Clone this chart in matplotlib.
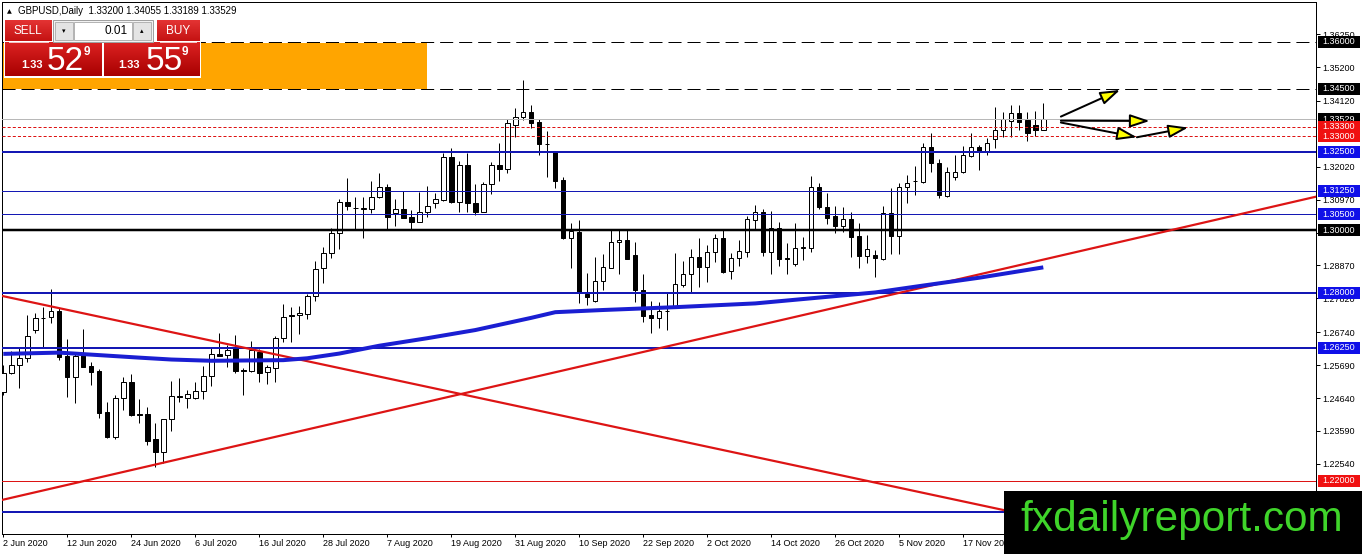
import numpy as np
import matplotlib
matplotlib.use("Agg")
import matplotlib.pyplot as plt
from matplotlib.patches import Rectangle
from matplotlib.transforms import blended_transform_factory
from matplotlib.colors import LinearSegmentedColormap

plt.rcParams['font.family'] = ['Liberation Sans', 'DejaVu Sans']
plt.rcParams['lines.scale_dashes'] = False

# ---------------- data ----------------
header_text = "GBPUSD,Daily  1.33200 1.34055 1.33189 1.33529"

opens = [1.2484, 1.2545, 1.2569, 1.2591, 1.2681, 1.2721, 1.2722, 1.2742, 1.2598, 1.2530,
         1.2605, 1.2566, 1.2551, 1.2419, 1.2341, 1.2463, 1.2514, 1.2413, 1.2412, 1.2333,
         1.2293, 1.2396, 1.2470, 1.2463, 1.2465, 1.2487, 1.2535, 1.2605, 1.2601, 1.2628,
         1.2552, 1.2551, 1.2612, 1.2548, 1.2559, 1.2655, 1.2728, 1.2729, 1.2733, 1.2790,
         1.2878, 1.2926, 1.2990, 1.3089, 1.3071, 1.3067, 1.3066, 1.3106, 1.3136, 1.3053,
         1.3066, 1.3041, 1.3027, 1.3059, 1.3087, 1.3096, 1.3232, 1.3091, 1.3208, 1.3087,
         1.3059, 1.3146, 1.3208, 1.3194, 1.3335, 1.3362, 1.3376, 1.3344, 1.3275, 1.3250,
         1.3159, 1.2974, 1.2993, 1.2797, 1.2775, 1.2839, 1.2880, 1.2961, 1.2968, 1.2920,
         1.2809, 1.2729, 1.2718, 1.2741, 1.2756, 1.2825, 1.2859, 1.2913, 1.2883, 1.2929,
         1.2974, 1.2870, 1.2912, 1.2929, 1.3032, 1.3057, 1.2931, 1.3006, 1.2911, 1.2892,
         1.2943, 1.2942, 1.3138, 1.3075, 1.3045, 1.3014, 1.3034, 1.2981, 1.2918, 1.2920,
         1.2908, 1.3053, 1.2982, 1.3138, 1.3156, 1.3154, 1.3264, 1.3213, 1.3110, 1.3168,
         1.3186, 1.3237, 1.3264, 1.3253, 1.3290, 1.3319, 1.3349, 1.3373, 1.3351, 1.3335,
         1.33200]
highs = [1.2570, 1.2614, 1.2628, 1.2729, 1.2735, 1.2756, 1.2811, 1.2750, 1.2652, 1.2612,
         1.2683, 1.2580, 1.2556, 1.2453, 1.2474, 1.2530, 1.2540, 1.2461, 1.2437, 1.2385,
         1.2398, 1.2519, 1.2527, 1.2490, 1.2516, 1.2566, 1.2623, 1.2671, 1.2633, 1.2665,
         1.2559, 1.2646, 1.2620, 1.2570, 1.2662, 1.2763, 1.2756, 1.2758, 1.2795, 1.2901,
         1.2947, 1.3008, 1.3099, 1.3165, 1.3106, 1.3104, 1.3157, 1.3181, 1.3147, 1.3098,
         1.3126, 1.3064, 1.3122, 1.3141, 1.3117, 1.3245, 1.3263, 1.3220, 1.3245, 1.3146,
         1.3154, 1.3216, 1.3279, 1.3353, 1.3390, 1.3479, 1.3399, 1.3354, 1.3316, 1.3252,
         1.3169, 1.3022, 1.3031, 1.2862, 1.2915, 1.2923, 1.2999, 1.2999, 1.2999, 1.2963,
         1.2859, 1.2774, 1.2771, 1.2798, 1.2926, 1.2901, 1.2940, 1.2974, 1.2952, 1.2987,
         1.3000, 1.2926, 1.2968, 1.3046, 1.3080, 1.3066, 1.3061, 1.3027, 1.2958, 1.3022,
         1.2979, 1.3172, 1.3149, 1.3117, 1.3077, 1.3075, 1.3059, 1.3022, 1.2984, 1.2936,
         1.3077, 1.3135, 1.3149, 1.3176, 1.3204, 1.3277, 1.3311, 1.3226, 1.3200, 1.3239,
         1.3268, 1.3311, 1.3271, 1.3295, 1.3394, 1.3378, 1.3399, 1.3399, 1.3378, 1.3381,
         1.34055]
lows = [1.2474, 1.2541, 1.2497, 1.2580, 1.2671, 1.2628, 1.2703, 1.2586, 1.2468, 1.2449,
        1.2563, 1.2506, 1.2400, 1.2336, 1.2333, 1.2426, 1.2408, 1.2385, 1.2314, 1.2245,
        1.2256, 1.2360, 1.2453, 1.2433, 1.2461, 1.2461, 1.2503, 1.2598, 1.2562, 1.2545,
        1.2474, 1.2548, 1.2516, 1.2509, 1.2516, 1.2644, 1.2642, 1.2669, 1.2715, 1.2774,
        1.2832, 1.2910, 1.2940, 1.3064, 1.3000, 1.2976, 1.3053, 1.3103, 1.3003, 1.3013,
        1.3037, 1.3003, 1.3025, 1.3043, 1.3069, 1.3093, 1.3085, 1.3059, 1.3057, 1.3048,
        1.3057, 1.3114, 1.3157, 1.3181, 1.3296, 1.3351, 1.3326, 1.3239, 1.3170, 1.3135,
        1.2972, 1.2880, 1.2766, 1.2761, 1.2771, 1.2809, 1.2878, 1.2860, 1.2907, 1.2771,
        1.2708, 1.2671, 1.2687, 1.2681, 1.2755, 1.2819, 1.2803, 1.2817, 1.2833, 1.2897,
        1.2862, 1.2843, 1.2886, 1.2915, 1.3003, 1.2918, 1.2859, 1.2886, 1.2859, 1.2885,
        1.2904, 1.2931, 1.3066, 1.3018, 1.2990, 1.2995, 1.2913, 1.2878, 1.2894, 1.2851,
        1.2904, 1.2924, 1.2924, 1.3087, 1.3112, 1.3151, 1.3186, 1.3101, 1.3104, 1.3160,
        1.3181, 1.3234, 1.3192, 1.3239, 1.3261, 1.3298, 1.3296, 1.3319, 1.3285, 1.3300,
        1.33189]
closes = [1.2545, 1.2569, 1.2591, 1.2662, 1.2719, 1.2719, 1.2742, 1.2596, 1.2532, 1.2598,
          1.2564, 1.2548, 1.2417, 1.2341, 1.2463, 1.2514, 1.2410, 1.2411, 1.2328, 1.2293,
          1.2396, 1.2472, 1.2468, 1.2476, 1.2487, 1.2535, 1.2604, 1.2599, 1.2617, 1.2551,
          1.2550, 1.2617, 1.2545, 1.2562, 1.2655, 1.2724, 1.2726, 1.2735, 1.2790, 1.2875,
          1.2926, 1.2990, 1.3089, 1.3078, 1.3069, 1.3069, 1.3106, 1.3136, 1.3043, 1.3066,
          1.3039, 1.3027, 1.3059, 1.3078, 1.3098, 1.3232, 1.3089, 1.3208, 1.3085, 1.3059,
          1.3146, 1.3208, 1.3194, 1.3343, 1.3362, 1.3376, 1.3343, 1.3274, 1.3273, 1.3157,
          1.2974, 1.2998, 1.2803, 1.2787, 1.2839, 1.2881, 1.2961, 1.2967, 1.2909, 1.2809,
          1.2727, 1.2718, 1.2742, 1.2743, 1.2827, 1.2859, 1.2913, 1.2883, 1.2929, 1.2974,
          1.2867, 1.2912, 1.2933, 1.3035, 1.3057, 1.2931, 1.3006, 1.2907, 1.2909, 1.2942,
          1.2945, 1.3138, 1.3075, 1.3038, 1.3014, 1.3034, 1.2979, 1.2918, 1.2939, 1.2910,
          1.3053, 1.2982, 1.3138, 1.3149, 1.3158, 1.3264, 1.3213, 1.3112, 1.3184, 1.3186,
          1.3239, 1.3264, 1.3250, 1.3277, 1.3319, 1.3353, 1.3374, 1.3346, 1.3309, 1.3319,
          1.33529]

date_labels = ['2 Jun 2020', '12 Jun 2020', '24 Jun 2020', '6 Jul 2020', '16 Jul 2020',
               '28 Jul 2020', '7 Aug 2020', '19 Aug 2020', '31 Aug 2020', '10 Sep 2020',
               '22 Sep 2020', '2 Oct 2020', '14 Oct 2020', '26 Oct 2020', '5 Nov 2020',
               '17 Nov 2020']
date_label_bars = [0, 8, 16, 24, 32, 40, 48, 56, 64, 72, 80, 88, 96, 104, 112, 120]

price_ticks = [1.36250, 1.35200, 1.34120, 1.32020, 1.30970, 1.29920, 1.28870,
               1.27820, 1.26740, 1.25690, 1.24640, 1.23590, 1.22540]

ma_bars = [0, 7, 12, 17, 21, 26, 35, 38, 42, 47, 53, 59, 66, 69, 75, 84, 94, 103,
           109, 115, 122, 130]
ma_values = [1.2605, 1.2609, 1.2601, 1.2593, 1.2587, 1.2583, 1.2585, 1.2591, 1.2606,
             1.2631, 1.2655, 1.2681, 1.2720, 1.2738, 1.2745, 1.2754, 1.2766, 1.2787,
             1.2801, 1.2823, 1.2848, 1.2881]

dashed_levels = [1.36000, 1.34500]
dotted_levels = [1.33300, 1.33000]
last_price = 1.33529
major_blue_levels = [1.32500, 1.28000, 1.26250, 1.21000]
minor_blue_levels = [1.31250, 1.30500]
pivot_level = 1.30000
red_level = 1.22000

zone_low, zone_high = 1.34500, 1.36000
zone_end_bar = 53.0

falling_trend = [(0, 1.2789), (125, 1.2107)]
rising_trend = [(0, 1.2140), (100, 1.2729)]

arrow_from = [(132.2, 1.3362), (132.2, 1.3349), (132.2, 1.3343), (141.7, 1.3296)]
arrow_to = [(139.6, 1.3447), (143.3, 1.3348), (141.7, 1.3296), (148.1, 1.3327)]

sell_parts = ('1.33', '52', '9')
buy_parts = ('1.33', '55', '9')
lot_size = '0.01'
watermark = 'fxdailyreport.com'

# ---------------- figure ----------------
W, H, DPI = 1362, 554, 100
PX = 72.0 / DPI
fig = plt.figure(figsize=(W / DPI, H / DPI), dpi=DPI)
fig.patch.set_facecolor('white')

L_, T_, R_, B_ = 2, 2, 1316, 534
ax = fig.add_axes([L_ / W, 1 - B_ / H, (R_ - L_) / W, (B_ - T_) / H])
ax.set_facecolor('white')
bar_px, first_px = 8.0, 3.3
x0, x1 = (L_ - first_px) / bar_px, (R_ - first_px) / bar_px
ax.set_xlim(x0, x1)
ax.set_ylim(1.20304, 1.37275)
px_per_price = (B_ - T_) / (1.37275 - 1.20304)

for sp in ax.spines.values():
    sp.set_color('black')
    sp.set_linewidth(PX)

# zone
ax.add_patch(Rectangle((x0, zone_low), zone_end_bar - x0, zone_high - zone_low,
                       facecolor='#FFA500', edgecolor='none', zorder=1))

# candles
o = np.array(opens); h = np.array(highs); l = np.array(lows); c = np.array(closes)
idx = np.arange(len(o))
up = c >= o
ax.vlines(idx, l, h, color='black', lw=PX, zorder=3)
bb = np.minimum(o, c)
bh = np.maximum(np.abs(c - o), 1e-6)
ax.bar(idx[up], bh[up], bottom=bb[up], width=0.55, color='white', edgecolor='black',
       lw=PX, zorder=4)
ax.bar(idx[~up], bh[~up], bottom=bb[~up], width=0.55, color='black', edgecolor='black',
       lw=PX, zorder=4)

# horizontal levels
BLUE = '#1418b4'
RED = '#dd1414'
for v in dashed_levels:
    ax.axhline(v, color='black', lw=PX, dashes=(9.4, 4.3), gapcolor='white', zorder=5)
ax.axhline(last_price, color='#b8b8b8', lw=PX, zorder=5)
for v in dotted_levels:
    ax.axhline(v, color=RED, lw=PX, dashes=(2.2, 1.5), zorder=5)
for v in major_blue_levels:
    ax.axhline(v, color=BLUE, lw=2 * PX, zorder=5)
for v in minor_blue_levels:
    ax.axhline(v, color=BLUE, lw=PX, zorder=5)
ax.axhline(pivot_level, color='black', lw=2.5 * PX, zorder=5)
ax.axhline(red_level, color=RED, lw=PX, zorder=5)

# trend lines
ax.axline(falling_trend[0], falling_trend[1], color=RED, lw=2.2 * PX, zorder=5)
ax.axline(rising_trend[0], rising_trend[1], color=RED, lw=2.2 * PX, zorder=5)

# moving average
ax.plot(ma_bars, ma_values, color='#1a1ed2', lw=4 * PX, zorder=6, solid_capstyle='butt',
        solid_joinstyle='round')

# arrows
for s, e in zip(arrow_from, arrow_to):
    ax.annotate('', xy=e, xytext=s, zorder=7, annotation_clip=False,
                arrowprops=dict(arrowstyle='-|>,head_length=12,head_width=4',
                                mutation_scale=1, fc='#ffff00', ec='black',
                                lw=2 * PX, shrinkA=0, shrinkB=0))

# axes ticks
ax.yaxis.tick_right()
ax.set_yticks(price_ticks)
ax.set_yticklabels(['%.5f' % v for v in price_ticks])
ax.tick_params(axis='y', length=4 * PX, width=PX, pad=2.5 * PX, labelsize=6.5,
               colors='black')
ax.set_xticks(date_label_bars)
ax.set_xticklabels(date_labels)
for t in ax.get_xticklabels():
    t.set_ha('left')
ax.tick_params(axis='x', length=3 * PX, width=PX, pad=2 * PX, labelsize=6.5)

# price tags on the axis
blend = blended_transform_factory(ax.transAxes, ax.transData)
axw = R_ - L_
half = 6.0 / px_per_price
tags = [(v, 'black') for v in dashed_levels] + [(last_price, 'black')] + \
       [(v, '#f01010') for v in dotted_levels] + \
       [(v, '#1010e8') for v in [major_blue_levels[0]] + minor_blue_levels] + \
       [(pivot_level, 'black')] + \
       [(v, '#1010e8') for v in major_blue_levels[1:3]] + [(red_level, '#f01010')]
z = 10
for v, col in tags:
    ax.add_patch(Rectangle((1 + 2.0 / axw, v - half), 42.0 / axw, 2 * half, transform=blend,
                           facecolor=col, edgecolor='none', clip_on=False, zorder=z))
    ax.text(1 + 6.0 / axw, v, '%.5f' % v, transform=blend, color='white', fontsize=6.5,
            va='center', ha='left', clip_on=False, zorder=z + 1)
    z += 2

# ---------------- overlay (header, trade panel, watermark) ----------------
ov = fig.add_axes([0, 0, 1, 1], zorder=10)
ov.patch.set_alpha(0)
ov.axis('off')


def grad_box(xa, ya, xb, yb, ctop, cbot):
    cmap = LinearSegmentedColormap.from_list('g', [ctop, cbot])
    g = np.linspace(0, 1, 64).reshape(-1, 1)
    ov.imshow(g, cmap=cmap, extent=(xa, xb, yb, ya), origin='upper', aspect='auto',
              interpolation='bilinear', zorder=2)


ov.text(7, 11.5, '\u25B2', fontsize=4.5, va='center', ha='left', family=['DejaVu Sans'])
ov.text(18, 11.5, header_text, fontsize=7, va='center', ha='left')

ov.add_patch(Rectangle((3.5, 19), 197.5, 59, facecolor='white', edgecolor='none', zorder=1))
grad_box(5, 20.7, 51.7, 41.3, '#e43434', '#c41212')
grad_box(156.7, 20.7, 199.3, 41.3, '#e43434', '#c41212')
grad_box(5, 42.7, 101.7, 76, '#dc2222', '#a80000')
grad_box(104, 42.7, 199.3, 76, '#dc2222', '#a80000')
ov.plot([9, 48], [42, 42], color='#f3c0c0', lw=PX, zorder=3)
ov.plot([160, 196], [42, 42], color='#f3c0c0', lw=PX, zorder=3)
ov.add_patch(Rectangle((52.7, 20), 100, 21.7, facecolor='#f2f2f2', edgecolor='#a0a0a0',
                       lw=PX, zorder=2))
ov.add_patch(Rectangle((54.5, 21.5), 18.5, 18.5, facecolor='#e4e4e4', edgecolor='#b4b4b4',
                       lw=PX, zorder=3))
ov.add_patch(Rectangle((74, 21.5), 57.7, 18.5, facecolor='white', edgecolor='#b4b4b4',
                       lw=PX, zorder=3))
ov.add_patch(Rectangle((132.5, 21.5), 18.5, 18.5, facecolor='#e4e4e4', edgecolor='#b4b4b4',
                       lw=PX, zorder=3))
ov.text(63.7, 30.8, '\u25BE', fontsize=5, va='center', ha='center', family=['DejaVu Sans'],
        zorder=4)
ov.text(141.7, 30.8, '\u25B4', fontsize=5, va='center', ha='center', family=['DejaVu Sans'],
        zorder=4)
ov.text(127.7, 31, lot_size, fontsize=8.5, va='center', ha='right', color='black', zorder=4)
ov.text(28.3, 31, 'SELL', fontsize=8.5, va='center', ha='center', color='white', zorder=4)
ov.text(178, 31, 'BUY', fontsize=8.5, va='center', ha='center', color='white', zorder=4)
for (a, b, s), xs in ((sell_parts, (21.5, 47, 83.5)), (buy_parts, (118, 146, 181.5))):
    ov.text(xs[0], 68.5, a, fontsize=8, fontweight='bold', color='white', va='baseline',
            ha='left', zorder=4)
    ov.text(xs[1], 70, b, fontsize=24, color='white', va='baseline', ha='left', zorder=4)
    ov.text(xs[2], 55, s, fontsize=8.5, fontweight='bold', color='white', va='baseline',
            ha='left', zorder=4)

ov.add_patch(Rectangle((1004, 490.5), 360, 64, facecolor='black', edgecolor='none', zorder=5))
ov.text(1020, 531.5, watermark, fontsize=30.5, color='#3fd42a', va='baseline', ha='left',
        zorder=6)

ov.set_xlim(0, W)
ov.set_ylim(H, 0)

fig.savefig('out.png', dpi=DPI, facecolor='white')
